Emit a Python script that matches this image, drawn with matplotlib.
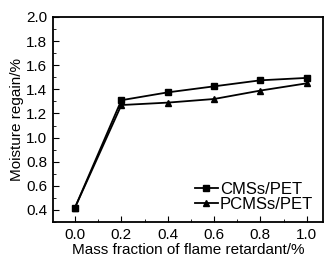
import matplotlib
matplotlib.use("Agg")
import matplotlib.pyplot as plt
from matplotlib.ticker import MultipleLocator

plt.rcParams['font.family'] = ['Liberation Sans', 'DejaVu Sans']

x = [0.0, 0.2, 0.4, 0.6, 0.8, 1.0]
cms = [0.42, 1.31, 1.375, 1.425, 1.475, 1.495]
pcms = [0.42, 1.27, 1.29, 1.32, 1.39, 1.45]

fig = plt.figure(figsize=(3.31, 2.65), dpi=100)
ax = fig.add_axes([53/331, 43/265, 270/331, 205/265])

ax.plot(x, cms, "-s", color="black", lw=1.3, ms=4.5, label="CMSs/PET")
ax.plot(x, pcms, "-^", color="black", lw=1.3, ms=5, label="PCMSs/PET")

ax.set_xlim(-0.095, 1.07)
ax.set_ylim(0.3, 2.0)
ax.xaxis.set_major_locator(MultipleLocator(0.2))
ax.xaxis.set_minor_locator(MultipleLocator(0.1))
ax.yaxis.set_major_locator(MultipleLocator(0.2))
ax.yaxis.set_minor_locator(MultipleLocator(0.1))
ax.tick_params(which="both", direction="in", labelsize=11)
ax.tick_params(which="major", length=4, pad=4)
ax.tick_params(which="minor", length=2)
for s in ax.spines.values():
    s.set_linewidth(1.3)

ax.set_xlabel("Mass fraction of flame retardant/%", fontsize=11, labelpad=1)
ax.set_ylabel("Moisture regain/%", fontsize=11, labelpad=2)
ax.legend(loc="lower right", frameon=False, fontsize=12, handlelength=1.4,
          handletextpad=0.1, labelspacing=0.0, borderaxespad=0.2)

fig.savefig("out.png", dpi=100)
